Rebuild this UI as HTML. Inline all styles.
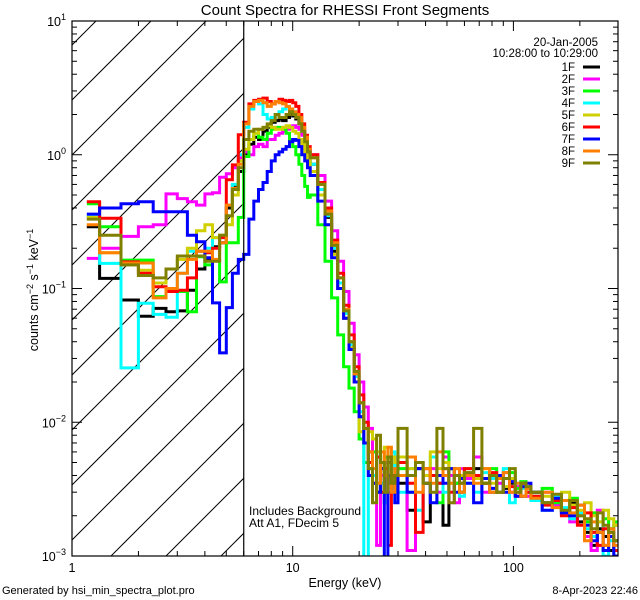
<!DOCTYPE html>
<html><head><meta charset="utf-8">
<style>
html,body{margin:0;padding:0;background:#fff;width:640px;height:600px;overflow:hidden;}
svg{display:block;font-family:"Liberation Sans",sans-serif;}
</style></head>
<body>
<svg id="chart" width="640" height="600" viewBox="0 0 640 600" xmlns="http://www.w3.org/2000/svg">
<defs><clipPath id="plotClip"><rect x="72" y="21" width="546" height="535"/></clipPath>
<clipPath id="hatchClip"><rect x="72" y="21" width="172" height="535"/></clipPath></defs>
<g id="hatch" clip-path="url(#hatchClip)"></g>
<g id="series" clip-path="url(#plotClip)"></g>
<g id="axes"></g>
<text x="345" y="15" font-size="15" text-anchor="middle">Count Spectra for RHESSI Front Segments</text>
<text x="345" y="587" font-size="12.5" text-anchor="middle">Energy (keV)</text>
<text transform="translate(38,290) rotate(-90)" font-size="12.5" text-anchor="middle">counts cm<tspan baseline-shift="super" font-size="9">−2</tspan> s<tspan baseline-shift="super" font-size="9">−1</tspan> keV<tspan baseline-shift="super" font-size="9">−1</tspan></text>
<text x="2" y="594" font-size="11">Generated by hsi_min_spectra_plot.pro</text>
<text x="638" y="594" font-size="11" text-anchor="end">8-Apr-2023 22:46</text>
<text x="598" y="46" font-size="11.5" text-anchor="end">20-Jan-2005</text>
<text x="598" y="57" font-size="11.5" text-anchor="end">10:28:00 to 10:29:00</text>
<text x="249" y="515" font-size="12">Includes Background</text>
<text x="249" y="527" font-size="12">Att A1, FDecim 5</text>
<g id="legend"></g>
</svg>
<script>
const segLabels = ["1F","2F","3F","4F","5F","6F","7F","8F","9F"];
const segColors = ["#000000","#ff00ff","#00ff00","#00ffff","#d0d000","#ff0000","#0000ff","#ff8000","#808000"];
const xTickLabels = ["1","10","100"];
const yTickExps = ["1","0","-1","-2","-3"];
const hatchEnergy = 6.0;
// energy bin segments: [start keV, end keV, width keV]
const binSegments = [[1,12,1/3],[12,30,1],[30,60,3],[60,120,6],[120,300,15]];

const s1F = [0.29,0.119,0.082,0.062,0.071,0.067,0.068,0.097,0.14,0.165,0.205,0.22,0.40,0.59,0.75,1.0,1.2,1.35,1.3,1.5,1.6,1.75,1.8,1.85,1.8,1.9,2.0,1.95,1.85,1.7,1.45,1.25,1.0,
 0.85,0.55,0.34,0.19,0.1,0.06,0.035,0.02,0.011,0.007,0.006,0.004,0.003,0.0045,0.0025,0.005,0.0035,0.004,
 0.0035,0.0022,0.0045,0.0018,0.004,0.0035,0.0017,0.0045,0.0035,0.003,
 0.004,0.0045,0.0035,0.003,0.0038,0.0032,0.0035,0.003,0.0028,0.003,
 0.003,0.0025,0.0028,0.0022,0.0025,0.0018,0.0015,0.0012,0.0016,0.0014,0.0011,0.0013];
const s2F = [0.168,0.2,0.245,0.29,0.30,0.51,0.47,0.445,0.42,0.51,0.52,0.68,0.72,0.8,0.95,1.05,1.0,1.15,1.2,1.15,1.3,1.3,1.4,1.45,1.5,1.55,1.6,1.65,1.6,1.55,1.4,1.25,1.1,
 1.0,0.7,0.45,0.27,0.16,0.095,0.055,0.032,0.02,0.013,0.009,0.006,0.0012,0.004,0.005,0.003,0.0045,0.0055,
 0.004,0.0011,0.005,0.0035,0.0045,0.003,0.0055,0.004,0.0025,0.0045,
 0.0038,0.0055,0.003,0.004,0.0035,0.0042,0.003,0.0033,0.0035,0.0028,
 0.0027,0.003,0.0024,0.0026,0.0018,0.002,0.0014,0.0011,0.0022,0.0012,0.0015,0.0017];
const s3F = [0.43,0.29,0.163,0.163,0.087,0.095,0.095,0.067,0.173,0.15,0.163,0.112,0.22,0.22,0.34,0.97,1.3,1.45,1.35,1.3,1.45,1.55,1.6,1.6,1.55,1.45,1.3,1.15,1.0,0.85,0.7,0.58,0.48,
 0.5,0.3,0.16,0.085,0.045,0.026,0.018,0.012,0.0075,0.005,0.0045,0.006,0.0035,0.003,0.0055,0.004,0.003,0.005,
 0.0045,0.003,0.005,0.0035,0.004,0.0025,0.006,0.0045,0.0035,0.004,
 0.0045,0.004,0.0035,0.0045,0.003,0.0038,0.0042,0.0032,0.0036,0.003,
 0.0028,0.0032,0.0025,0.0022,0.0027,0.002,0.0018,0.0021,0.0015,0.0019,0.0016,0.0018];
const s4F = [0.345,0.154,0.0255,0.0776,0.064,0.061,0.13,0.19,0.19,0.2,0.24,0.24,0.42,0.6,1.0,1.6,2.2,2.5,2.4,2.0,1.85,1.9,2.0,2.1,2.2,2.3,2.2,2.1,2.0,1.8,1.5,1.2,1.0,
 0.85,0.55,0.35,0.2,0.11,0.065,0.038,0.022,0.012,0.0009,0.005,0.004,0.006,0.0035,0.0025,0.0045,0.006,0.0035,
 0.003,0.0045,0.0022,0.004,0.0055,0.0035,0.003,0.0045,0.004,0.0028,
 0.0035,0.003,0.0042,0.0038,0.003,0.0045,0.0025,0.0035,0.0032,0.003,
 0.0026,0.0022,0.0028,0.0023,0.0019,0.0021,0.0016,0.0014,0.0018,0.001,0.0013,0.0009];
const s5F = [0.34,0.185,0.15,0.137,0.11,0.14,0.165,0.2,0.27,0.3,0.24,0.25,0.3,0.5,0.9,1.1,1.3,1.45,1.55,1.6,1.65,1.6,1.55,1.55,1.6,1.65,1.6,1.5,1.45,1.3,1.2,1.05,0.9,
 0.75,0.5,0.3,0.18,0.1,0.06,0.036,0.02,0.0085,0.007,0.0085,0.0075,0.006,0.005,0.0065,0.004,0.0055,0.005,
 0.0055,0.0045,0.005,0.004,0.006,0.0045,0.005,0.0035,0.0045,0.004,
 0.0042,0.0038,0.0045,0.0035,0.004,0.0033,0.0038,0.003,0.0035,0.0032,
 0.003,0.0028,0.0026,0.003,0.0024,0.0022,0.0025,0.002,0.0018,0.0022,0.0019,0.0017];
const s6F = [0.445,0.335,0.158,0.13,0.103,0.095,0.097,0.12,0.19,0.185,0.2,0.24,0.65,0.84,1.41,1.75,2.4,2.55,2.6,2.65,2.5,2.4,2.5,2.6,2.55,2.5,2.55,2.45,2.3,2.0,1.7,1.4,1.15,
 1.0,0.62,0.4,0.23,0.13,0.075,0.045,0.026,0.016,0.01,0.005,0.0035,0.0055,0.003,0.0045,0.0012,0.004,0.0035,
 0.005,0.0035,0.0015,0.0045,0.004,0.0035,0.0045,0.003,0.004,0.0035,
 0.0045,0.004,0.0035,0.0042,0.003,0.0038,0.0033,0.0028,0.0035,0.003,
 0.0028,0.0024,0.0026,0.002,0.0023,0.0017,0.0021,0.0015,0.0012,0.0016,0.0014,0.0011];
const s7F = [0.36,0.40,0.43,0.445,0.375,0.375,0.375,0.25,0.224,0.17,0.078,0.033,0.072,0.13,0.165,0.18,0.33,0.45,0.55,0.62,0.75,0.9,1.0,1.05,1.1,1.15,1.25,1.3,1.28,1.15,1.0,0.9,0.8,
 0.7,0.45,0.3,0.17,0.1,0.06,0.035,0.02,0.011,0.007,0.004,0.0035,0.003,0.0045,0.0009,0.004,0.0035,0.0025,
 0.004,0.003,0.0045,0.0035,0.0025,0.004,0.0035,0.0045,0.003,0.0038,
 0.0035,0.0025,0.0038,0.0032,0.004,0.003,0.0036,0.0028,0.0033,0.0035,
 0.003,0.0022,0.0027,0.0021,0.002,0.0024,0.0017,0.0013,0.0015,0.0011,0.0014,0.001];
const s8F = [0.30,0.185,0.155,0.155,0.085,0.1,0.13,0.165,0.19,0.19,0.165,0.22,0.42,0.56,0.85,1.7,2.3,2.5,2.55,2.45,2.3,2.4,2.5,2.45,2.4,2.3,2.2,2.1,2.0,1.9,1.6,1.35,1.1,
 0.95,0.6,0.38,0.22,0.12,0.07,0.04,0.023,0.014,0.009,0.006,0.0045,0.0035,0.006,0.004,0.0065,0.003,0.0045,
 0.004,0.0055,0.003,0.0045,0.0035,0.006,0.004,0.0035,0.0045,0.003,
 0.004,0.0035,0.0045,0.003,0.0038,0.0042,0.003,0.0035,0.0028,0.0032,
 0.0027,0.003,0.0023,0.0026,0.0021,0.0024,0.0013,0.0018,0.0015,0.0012,0.0016,0.0012];
const s9F = [0.33,0.25,0.15,0.125,0.12,0.14,0.175,0.175,0.175,0.16,0.16,0.25,0.35,0.55,0.8,1.3,1.5,1.55,1.55,1.6,1.7,1.8,2.0,1.9,1.9,2.0,2.1,2.0,1.9,1.7,1.5,1.25,1.05,
 0.95,0.6,0.36,0.21,0.12,0.068,0.04,0.024,0.014,0.009,0.0045,0.0025,0.008,0.005,0.003,0.0055,0.0035,0.004,
 0.009,0.004,0.005,0.0035,0.003,0.009,0.0045,0.0025,0.004,0.0035,
 0.0042,0.009,0.0035,0.004,0.003,0.0038,0.0045,0.003,0.0035,0.0033,
 0.003,0.0025,0.0029,0.0022,0.0026,0.002,0.0019,0.0016,0.0021,0.0017,0.0015,0.0013];
const allSeries = [s1F,s2F,s3F,s4F,s5F,s6F,s7F,s8F,s9F];

const NS = "http://www.w3.org/2000/svg";
const X0 = 72, X1 = 618, Y0 = 21, Y1 = 556;
const XDEC = 220.7, YDEC = (Y1 - Y0) / 4;
function xs(e){ return X0 + XDEC * Math.log10(e); }
function ys(v){ return Y0 + (1 - Math.log10(Math.max(v,1e-5))) * YDEC; }
function mk(tag, attrs, parent){ const el = document.createElementNS(NS, tag); for (const k in attrs) el.setAttribute(k, attrs[k]); parent.appendChild(el); return el; }

const edges = [];
binSegments.forEach((s, si) => {
  const n = Math.round((s[1]-s[0])/s[2]);
  for (let i = (si===0?0:1); i <= n; i++) edges.push(s[0] + i*s[2]);
});

const hatch = document.getElementById('hatch');
for (let c = -700; c < 800; c += 55) {
  const ln = mk('line', {x1: X0, y1: 85 + c, x2: X0 + 700, y2: 85 + c - 700, stroke: '#000', 'stroke-width': 1}, hatch);
  
  
}
const hb = mk('line', {x1: xs(hatchEnergy), y1: Y0, x2: xs(hatchEnergy), y2: Y1, stroke: '#000', 'stroke-width': 1.2}, document.getElementById('axes'));



const sg = document.getElementById('series');
allSeries.forEach((vals, si) => {
  let d = '';
  for (let i = 0; i < vals.length; i++) {
    const xa = i === 0 ? xs((edges[0]+edges[1])/2) : xs(edges[i]);
    const xb = xs(edges[i+1]);
    const y = ys(vals[i]).toFixed(1);
    d += (i === 0 ? 'M' : 'L') + xa.toFixed(1) + ',' + y + 'L' + xb.toFixed(1) + ',' + y;
  }
  const p = mk('path', {d: d, fill: 'none', stroke: segColors[si], 'stroke-width': 3, 'stroke-linejoin': 'miter'}, sg);
  
  
});

const ax = document.getElementById('axes');
const frame = mk('rect', {x: X0, y: Y0, width: X1-X0, height: Y1-Y0, fill: 'none', stroke: '#000', 'stroke-width': 1.2}, ax);


for (let dec = 0; dec < 3; dec++) {
  for (let m = 1; m <= 9; m++) {
    const e = m * Math.pow(10, dec);
    const x = xs(e);
    if (x > X1 + 0.5) continue;
    const len = m === 1 ? 10 : 5;
    const t1 = mk('line', {x1: x, y1: Y1, x2: x, y2: Y1 - len, stroke: '#000', 'stroke-width': 1}, ax);
    
    
    const t2 = mk('line', {x1: x, y1: Y0, x2: x, y2: Y0 + len, stroke: '#000', 'stroke-width': 1}, ax);
    
    
  }
}
xTickLabels.forEach((lab) => {
  const t = mk('text', {x: xs(Number(lab)), y: Y1 + 16, 'font-size': 12.5, 'text-anchor': 'middle'}, ax);
  t.textContent = lab;
  
  
});
yTickExps.forEach((ex) => {
  const p = Number(ex);
  for (let m = 1; m <= 9; m++) {
    const v = m * Math.pow(10, p);
    const y = ys(v);
    if (y < Y0 - 0.5) continue;
    const len = m === 1 ? 10 : 5;
    const t1 = mk('line', {x1: X0, y1: y, x2: X0 + len, y2: y, stroke: '#000', 'stroke-width': 1}, ax);
    
    
    const t2 = mk('line', {x1: X1, y1: y, x2: X1 - len, y2: y, stroke: '#000', 'stroke-width': 1}, ax);
    
    
  }
  const t = mk('text', {x: X0 - 6, y: ys(Math.pow(10, p)) + 5, 'font-size': 12.5, 'text-anchor': 'end'}, ax);
  t.innerHTML = '10<tspan dy="-6" font-size="9">' + (p < 0 ? '−' + (-p) : p) + '</tspan>';
  
  
});

const lg = document.getElementById('legend');
segLabels.forEach((lab, i) => {
  const y = 67 + i * 12;
  const g = mk('g', {}, lg);
  
  
  const t = mk('text', {x: 575, y: y + 4, 'font-size': 11.5, 'text-anchor': 'end'}, g);
  t.textContent = lab;
  mk('line', {x1: 583, y1: y, x2: 600, y2: y, stroke: segColors[i], 'stroke-width': 3}, g);
});
</script>
</body></html>
